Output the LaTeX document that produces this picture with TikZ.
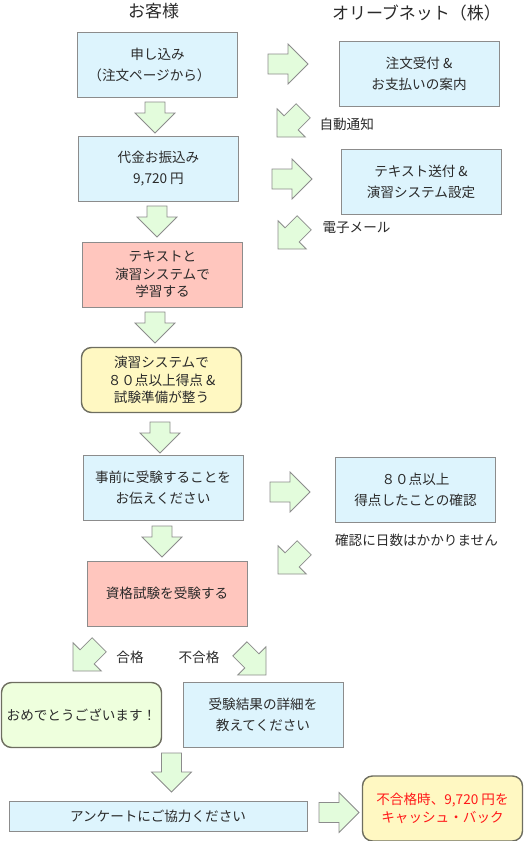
\documentclass[tikz,border=0pt]{standalone}
\usepackage{fontspec}
\setmainfont{Noto Sans CJK JP}

\definecolor{boxblue}{HTML}{DDF4FD}
\definecolor{boxpink}{HTML}{FFC6BE}
\definecolor{boxyellow}{HTML}{FFF8C2}
\definecolor{boxgreen}{HTML}{EEFFDD}
\definecolor{arrowgreen}{HTML}{E3FCDC}
\definecolor{boxline}{HTML}{8C8C8C}
\definecolor{roundline}{HTML}{6E6E60}
\definecolor{textgray}{HTML}{2A2A2A}
\definecolor{cashred}{HTML}{FF1A1A}

\tikzset{
  box/.style={draw=boxline, line width=1pt, minimum width=160pt, minimum height=65pt,
    align=center, inner sep=2pt, text=textgray, font=\fontsize{13.6}{17.5}\selectfont},
  bluebox/.style={box, fill=boxblue},
  pinkbox/.style={box, fill=boxpink},
  roundbox/.style={box, draw=roundline, line width=1.4pt, rounded corners=10pt},
  heading/.style={text=textgray, font=\fontsize{17}{20}\selectfont},
  note/.style={text=textgray, font=\fontsize{13.6}{17.5}\selectfont},
  fatarrowline/.style={draw=boxline, fill=arrowgreen, line width=0.8pt, line join=miter}
}

% #1 tip, #2 direction, #3 shaft length
\newcommand{\fatarrow}[3]{%
  \draw[fatarrowline, shift={#1}, rotate=#2] (0,0) -- (-20,20) -- (-20,10) -- (-20-#3,10)
    -- (-20-#3,-10) -- (-20,-10) -- (-20,-20) -- cycle;}

\begin{document}
\begin{tikzpicture}[x=1pt,y=1pt]
  \useasboundingbox (0,0) rectangle (525,-841);
  % headings
  \node[heading] (customer) at (153.5,-11) {お客様};
  \node[heading] (olive) at (416.5,-13) {オリーブネット（株）};
  % customer side
  \node[bluebox] (order) at (157.5,-64.5) {申し込み\\[3.5pt]（注文ページから）\hspace*{16pt}};
  \node[bluebox] (payment) at (158.5,-168.5) {代金お振込み\\[3.5pt]9,720 円};
  \node[pinkbox] (study) at (162.5,-274.5) {テキストと\\演習システムで\\学習する};
  \node[roundbox, fill=boxyellow] (ready) at (161.5,-380) {演習システムで\\８０点以上得点 \&\\試験準備が整う};
  \node[bluebox] (notify) at (163,-487.5) {事前に受験することを\\[3.5pt]お伝えください};
  \node[pinkbox] (exam) at (167,-593.5) {資格試験を受験する};
  \node[roundbox, fill=boxgreen] (pass) at (81.5,-715) {おめでとうございます！};
  \node[bluebox] (fail) at (263,-714.5) {受験結果の詳細を\\[3.5pt]教えてください};
  \node[bluebox, minimum width=298pt, minimum height=30pt] (survey) at (158,-816) {アンケートにご協力ください};
  \node[roundbox, fill=boxyellow, text=cashred] (cashback) at (442.5,-808.5) {不合格時、9,720 円を\\キャッシュ・バック};
  % olive net side
  \node[bluebox] (accept) at (419,-73.5) {注文受付 \&\\[3.5pt]お支払いの案内};
  \node[bluebox] (send) at (421,-181.5) {テキスト送付 \&\\[3.5pt]演習システム設定};
  \node[bluebox] (check) at (415.5,-490) {８０点以上\\[3.5pt]得点したことの確認};
  % notes
  \node[note, anchor=west] (auto) at (316,-124) {自動通知};
  \node[note, anchor=west] (mail) at (319,-228) {電子メール};
  \node[note] (days) at (416.5,-540) {確認に日数はかかりません};
  \node[note] (ok) at (130,-657) {合格};
  \node[note] (ng) at (199,-657) {不合格};
  % down arrows
  \fatarrow{(155,-133)}{-90}{11}
  \fatarrow{(157,-237)}{-90}{11}
  \fatarrow{(155,-343)}{-90}{11}
  \fatarrow{(160,-453)}{-90}{11}
  \fatarrow{(162,-557)}{-90}{11}
  \fatarrow{(171.5,-792)}{-90}{19}
  % right arrows
  \fatarrow{(308,-64)}{0}{20}
  \fatarrow{(312,-179)}{0}{20}
  \fatarrow{(310,-492)}{0}{20}
  \fatarrow{(359,-812.5)}{0}{20}
  % back arrows
  \fatarrow{(277,-137)}{-135}{17}
  \fatarrow{(278,-249)}{-135}{17}
  \fatarrow{(278,-574)}{-135}{17}
  \fatarrow{(73,-671)}{-135}{17}
  \fatarrow{(266,-675)}{-45}{17}
\end{tikzpicture}
\end{document}
